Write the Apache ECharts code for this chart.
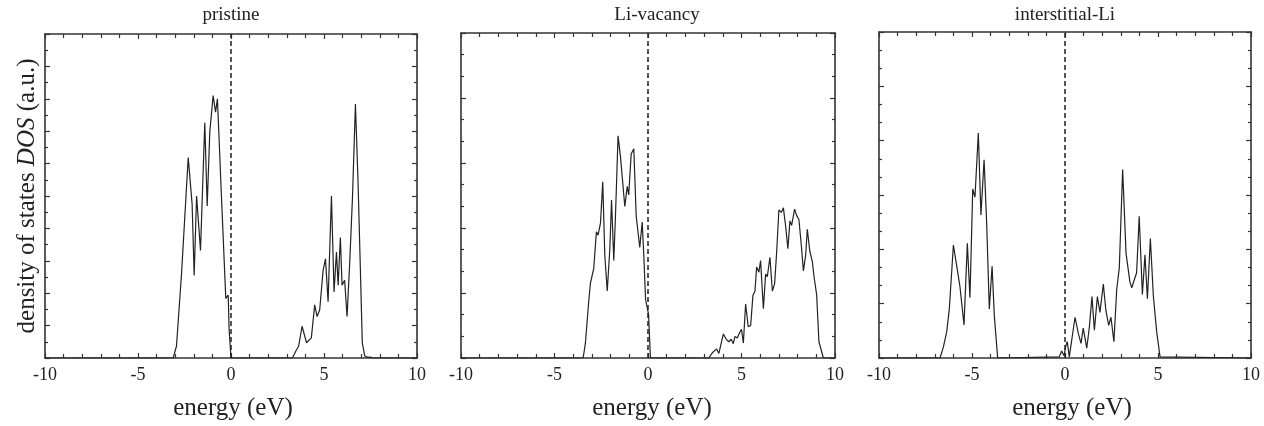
<!DOCTYPE html>
<html>
<head>
<meta charset="utf-8">
<script src="https://cdn.jsdelivr.net/npm/echarts@6/dist/echarts.min.js"></script>
<style>
  html, body { margin: 0; padding: 0; background: #fff; }
  #chart { width: 1264px; height: 426px; }
</style>
</head>
<body>
<div id="chart"></div>
<script>
// energies (eV) and DOS (a.u.)
var pristineE = [-10, -3.11, -2.93, -2.66, -2.57, -2.3, -2.09, -1.98, -1.85, -1.64, -1.41, -1.28, -1.14, -0.96, -0.83, -0.73, -0.51, -0.28, -0.15, -0.1, 0,
  3.3, 3.48, 3.64, 3.82, 4.06, 4.32, 4.5, 4.63, 4.77, 4.95, 5.08, 5.22, 5.4, 5.54, 5.67, 5.76, 5.88, 5.97, 6.11, 6.24, 6.38, 6.53, 6.69, 6.83, 7.06, 7.19, 7.37, 7.49, 7.6, 10];
var pristineDos = [0, 0, 0.37, 2.6, 2.6, 6.19, 4.74, 2.55, 5.0, 3.32, 7.26, 4.69, 6.98, 8.1, 7.59, 8.0, 4.94, 1.84, 1.94, 0.87, 0,
  0, 0.21, 0.37, 0.98, 0.47, 0.62, 1.64, 1.28, 1.49, 2.7, 3.06, 1.74, 5.0, 2.04, 3.27, 2.25, 3.72, 2.25, 2.4, 1.28, 2.91, 4.94, 7.84, 5.45, 0.47, 0.06, 0.02, 0.03, 0, 0];

var vacancyE = [-10, -3.47, -3.35, -3.17, -3.08, -2.99, -2.9, -2.76, -2.67, -2.54, -2.42, -2.31, -2.18, -2.04, -1.95, -1.83, -1.74, -1.6, -1.47, -1.24, -1.11, -1.03, -0.9, -0.76, -0.63, -0.44, -0.31, -0.22, -0.13, -0.04, 0.03, 0.13,
  3.25, 3.44, 3.67, 3.79, 4.03, 4.2, 4.33, 4.45, 4.56, 4.65, 4.78, 4.92, 5.0, 5.1, 5.22, 5.36, 5.49, 5.61, 5.72, 5.81, 5.93, 6.02, 6.17, 6.29, 6.38, 6.52, 6.65, 6.77, 6.88, 7.0, 7.13, 7.24, 7.36, 7.48, 7.59, 7.68, 7.84, 7.95, 8.07, 8.2, 8.31, 8.43, 8.52, 8.65, 8.79, 8.88, 9.02, 9.14, 9.23, 9.38, 10];
var vacancyDos = [0, 0, 0.22, 0.87, 1.15, 1.15, 1.38, 1.94, 1.89, 2.08, 2.71, 1.58, 1.03, 1.68, 2.43, 1.5, 2.18, 3.42, 3.09, 2.33, 2.64, 2.51, 3.14, 3.22, 2.18, 1.7, 2.09, 1.55, 0.9, 0.9, 0.67, 0,
  0, 0.08, 0.14, 0.07, 0.37, 0.28, 0.25, 0.29, 0.22, 0.33, 0.31, 0.4, 0.44, 0.23, 0.83, 0.48, 0.5, 0.96, 1.03, 1.4, 1.32, 1.5, 0.76, 1.29, 1.25, 1.55, 1.03, 1.14, 1.63, 2.28, 2.24, 2.31, 2.03, 1.68, 2.11, 2.04, 2.29, 2.19, 2.13, 1.73, 1.34, 1.58, 1.98, 1.65, 1.48, 1.25, 0.97, 0.25, 0.22, 0, 0];

var interstitialE = [-10, -6.72, -6.54, -6.36, -6.22, -6.0, -5.82, -5.65, -5.43, -5.25, -5.11, -4.96, -4.84, -4.66, -4.52, -4.35, -4.21, -4.07, -3.92, -3.8, -3.62,
  -0.31, -0.18, -0.05, 0.04, 0.12, 0.23, 0.32, 0.54, 0.72, 0.86, 0.98, 1.17, 1.31, 1.45, 1.58, 1.74, 1.88, 2.06, 2.2, 2.35, 2.47, 2.63, 2.78, 2.92, 3.1, 3.28, 3.49, 3.59, 3.67, 3.85, 3.99, 4.16, 4.3, 4.43, 4.59, 4.75, 4.93, 5.11, 10];
var interstitialDos = [0, 0, 0.2, 0.48, 0.9, 2.08, 1.69, 1.32, 0.61, 2.11, 1.11, 3.11, 2.96, 4.14, 2.63, 3.65, 2.47, 0.9, 1.69, 0.78, 0,
  0.02, 0.13, 0.04, 0.22, 0.3, 0.02, 0.02, 0.75, 0.45, 0.27, 0.55, 0.18, 0.57, 1.13, 0.51, 1.13, 0.84, 1.36, 0.87, 0.6, 0.75, 0.3, 1.26, 1.66, 3.47, 1.93, 1.4, 1.29, 1.38, 1.57, 2.61, 1.17, 1.9, 1.09, 2.2, 1.14, 0.48, 0.02, 0];

var titles = ['pristine', 'Li-vacancy', 'interstitial-Li'];
var xTicks = [-10, -5, 0, 5, 10];
var yMax = [10, 5, 6];
var yMinorSplit = [2, 3, 3];

var FONT = 'Liberation Serif';
var INK = '#222';

var grids = [
  { left: 45, top: 34, width: 372, height: 328 },
  { left: 461, top: 33, width: 374, height: 331 },
  { left: 879, top: 32, width: 372, height: 331 }
];
var titleX = [231, 657, 1065];
// small nudges of the "energy (eV)" labels, as in the original figure
var xNamePad = [4, 8, 14];

function zip(a, b) {
  return a.map(function (v, i) { return [v, b[i]]; });
}

var xAxis = [], yAxis = [], series = [], title = [];
var allE = [pristineE, vacancyE, interstitialE];
var allDos = [pristineDos, vacancyDos, interstitialDos];

for (var i = 0; i < 3; i++) {
  var frame = { show: true, onZero: false, lineStyle: { color: '#333', width: 1.6 } };
  var xBase = {
    type: 'value', gridIndex: i,
    min: xTicks[0], max: xTicks[xTicks.length - 1], interval: xTicks[1] - xTicks[0],
    axisLine: frame,
    axisTick: { show: true, inside: true, length: 5, lineStyle: { color: '#333', width: 1.2 } },
    minorTick: { show: true, splitNumber: 5, length: 4, lineStyle: { color: '#333', width: 1.2 } },
    splitLine: { show: false },
    minorSplitLine: { show: false }
  };
  xAxis.push(Object.assign({}, xBase, {
    position: 'bottom',
    axisLabel: { fontFamily: FONT, fontSize: 18, color: INK, margin: 8 },
    name: 'energy (eV)', nameLocation: 'middle', nameGap: 38,
    nameTextStyle: { fontFamily: FONT, fontSize: 25, color: INK, padding: [0, 0, 0, xNamePad[i]] }
  }));
  xAxis.push(Object.assign({}, xBase, { position: 'top', axisLabel: { show: false } }));

  var yBase = {
    type: 'value', gridIndex: i,
    min: 0, max: yMax[i], interval: 1,
    axisLine: frame,
    axisTick: { show: true, inside: true, length: 5, lineStyle: { color: '#333', width: 1.2 } },
    minorTick: { show: true, splitNumber: yMinorSplit[i], length: 3, lineStyle: { color: '#333', width: 1.2 } },
    axisLabel: { show: false },
    splitLine: { show: false },
    minorSplitLine: { show: false }
  };
  var yLeft = Object.assign({}, yBase, { position: 'left' });
  if (i === 0) {
    yLeft.name = 'density of states {i|DOS} (a.u.)';
    yLeft.nameLocation = 'middle';
    yLeft.nameGap = 5;
    yLeft.nameTextStyle = {
      fontFamily: FONT, fontSize: 25, color: INK,
      rich: { i: { fontFamily: FONT, fontSize: 25, color: INK, fontStyle: 'italic' } }
    };
  }
  yAxis.push(yLeft);
  yAxis.push(Object.assign({}, yBase, { position: 'right' }));

  series.push({
    type: 'line',
    xAxisIndex: i * 2, yAxisIndex: i * 2,
    data: zip(allE[i], allDos[i]),
    showSymbol: false,
    lineStyle: { color: INK, width: 1.2 },
    markLine: {
      silent: true, symbol: 'none', animation: false,
      label: { show: false },
      lineStyle: { color: INK, width: 1.5, type: [5, 3] },
      data: [{ xAxis: 0 }]
    }
  });

  title.push({
    text: titles[i], left: titleX[i], top: 6, padding: 0, textAlign: 'center',
    textStyle: { fontFamily: FONT, fontSize: 19, fontWeight: 'normal', color: INK }
  });
}

var myChart = echarts.init(document.getElementById('chart'));
myChart.setOption({
  animation: false,
  backgroundColor: '#fff',
  title: title,
  grid: grids,
  xAxis: xAxis,
  yAxis: yAxis,
  series: series
});
</script>
</body>
</html>
